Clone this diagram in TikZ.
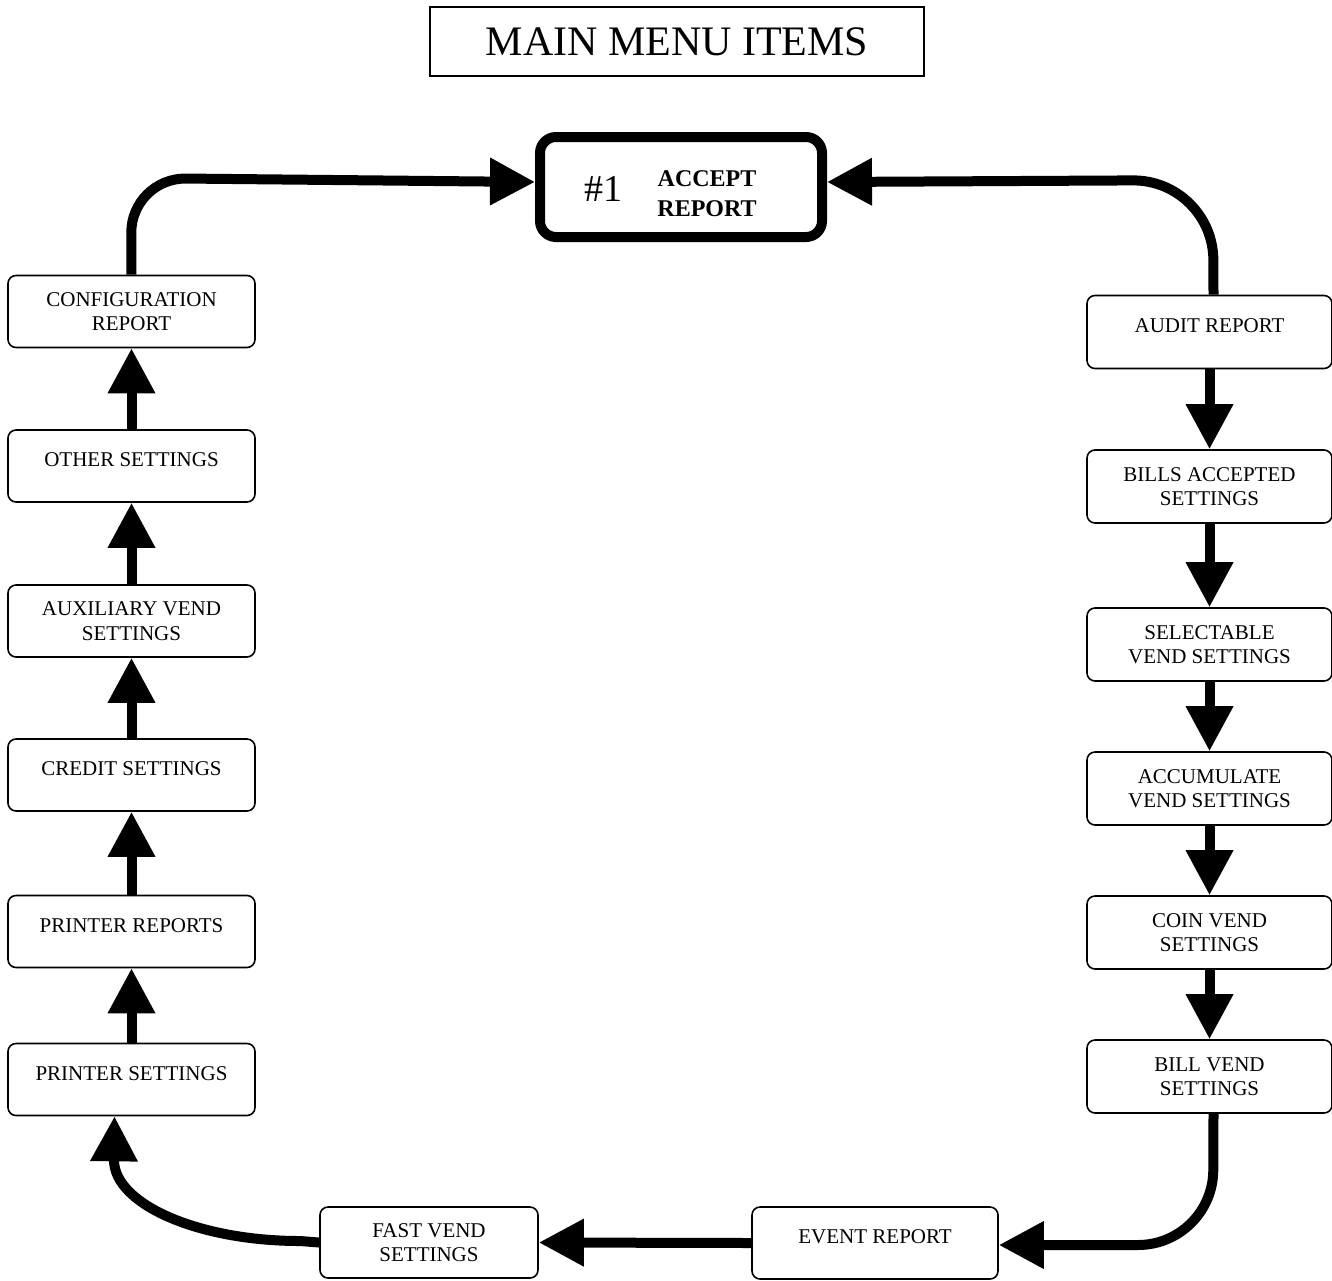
\documentclass[tikz,border=0pt]{standalone}
\usepackage{fontspec}
\setmainfont{Liberation Serif}
\usetikzlibrary{arrows.meta}
\begin{document}
\begin{tikzpicture}[x=1pt,y=-1pt,
  menubox/.style={draw,line width=1.6pt,rounded corners=8pt,align=center,
    font=\fontsize{21}{24.5}\selectfont,inner sep=0pt},
  leftbox/.style={menubox,minimum width=247pt,minimum height=72pt},
  rightbox/.style={menubox,minimum width=245pt,minimum height=73pt},
  oneline/.style={text depth=12pt},
  flow/.style={line width=10pt,-{Triangle[length=45pt,width=45pt]}},
  cornerflow/.style={flow,rounded corners=60pt}]
\useasboundingbox (0,0) rectangle (1332,1280);

% title
\node[draw,line width=1.5pt,minimum width=494pt,minimum height=69pt,
  font=\fontsize{42}{46}\selectfont] (title) at (677,41.5) {MAIN MENU ITEMS};

% first item
\node[draw,line width=10pt,rounded corners=16pt,minimum width=282pt,
  minimum height=100pt] (accept) at (681,187) {};
\node[font=\fontsize{38}{40}\selectfont,inner sep=0pt] (num) at (603,189) {\#1};
\node[font=\bfseries\fontsize{24}{30}\selectfont,align=center,inner sep=0pt]
  (accepttext) at (707,194) {ACCEPT\\REPORT};

% left column
\node[leftbox] (conf)   at (131.5,311.5) {CONFIGURATION\\REPORT};
\node[leftbox,oneline] (other)  at (131.5,466) {OTHER SETTINGS};
\node[leftbox] (aux)    at (131.5,621) {AUXILIARY VEND\\SETTINGS};
\node[leftbox,oneline] (credit) at (131.5,775) {CREDIT SETTINGS};
\node[leftbox,oneline] (printR) at (131.5,931.5) {PRINTER REPORTS};
\node[leftbox,oneline] (printS) at (131.5,1079.5) {PRINTER SETTINGS};

% right column
\node[rightbox,oneline] (audit) at (1209.5,332) {AUDIT REPORT};
\node[rightbox] (billsA) at (1209.5,486.5) {BILLS ACCEPTED\\SETTINGS};
\node[rightbox] (select) at (1209.5,644.5) {SELECTABLE\\VEND SETTINGS};
\node[rightbox] (accum)  at (1209.5,788.5) {ACCUMULATE\\VEND SETTINGS};
\node[rightbox] (coin)   at (1209.5,932.5) {COIN VEND\\SETTINGS};
\node[rightbox] (billV)  at (1209.5,1076.5) {BILL VEND\\SETTINGS};

% bottom row
\node[menubox,minimum width=246pt,minimum height=72pt,oneline] (event) at (875,1243) {EVENT REPORT};
\node[menubox,minimum width=218pt,minimum height=71pt] (fast) at (429,1242.5) {FAST VEND\\SETTINGS};

% right column, downwards
\draw[flow] (audit.south)  -- (billsA.north);
\draw[flow] (billsA.south) -- (select.north);
\draw[flow] (select.south) -- (accum.north);
\draw[flow] (accum.south)  -- (coin.north);
\draw[flow] (coin.south)   -- (billV.north);

% left column, upwards
\draw[flow] (printS.north) -- (printR.south);
\draw[flow] (printR.north) -- (credit.south);
\draw[flow] (credit.north) -- (aux.south);
\draw[flow] (aux.north)    -- (other.south);
\draw[flow] (other.north)  -- (conf.south);

% loops round the corners
\draw[cornerflow,rounded corners=75pt] ([xshift=4pt]billV.south) -- (1213,1245) -- ([yshift=-2pt]event.east);
\draw[flow] (event.west) -- (fast.east);
\draw[flow] (fast.west) -- (300,1241) .. controls (198,1241) and (114,1204) .. (114,1160)
  -- ([xshift=-17pt]printS.south);
\draw[cornerflow,rounded corners=55pt] (conf.north) -- (131,178) -- ([yshift=5pt]accept.west);
\draw[cornerflow,rounded corners=80pt] ([xshift=4pt]audit.north) -- (1213,180) -- ([yshift=5pt]accept.east);
\end{tikzpicture}
\end{document}
